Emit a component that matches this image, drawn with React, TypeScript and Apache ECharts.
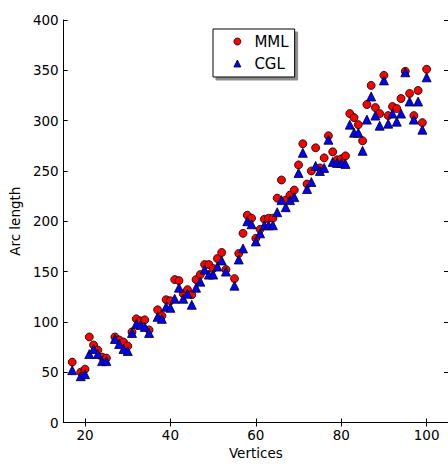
import React, { useEffect, useRef } from "react";
import * as echarts from "echarts";

const vertices = [17, 19, 20, 21, 22, 23, 24, 25, 27, 28, 29, 30, 31, 32, 33, 34, 35, 37, 38, 39, 40, 41, 42, 43, 44, 45, 46, 47, 48, 49, 50, 51, 52, 53, 55, 56, 57, 58, 59, 60, 61, 62, 63, 64, 65, 66, 67, 68, 69, 70, 71, 72, 73, 74, 75, 76, 77, 78, 79, 80, 81, 82, 83, 84, 85, 86, 87, 88, 89, 90, 91, 92, 93, 94, 95, 96, 97, 98, 99, 100];

const mml = [60, 50, 53, 85, 77, 72, 65, 64, 85, 82, 80, 76, 90, 103, 101, 102, 92, 112, 106, 122, 121, 142, 141, 128, 132, 127, 142, 147, 157, 157, 153, 163, 169, 152, 143, 168, 188, 206, 203, 183, 192, 202, 203, 203, 223, 241, 221, 226, 231, 256, 277, 237, 250, 273, 253, 263, 285, 269, 261, 262, 265, 307, 303, 296, 280, 316, 335, 313, 307, 345, 305, 314, 312, 322, 349, 327, 305, 330, 298, 351];

const cgl = [52, 46, 48, 68, 73, 68, 61, 61, 83, 78, 73, 71, 89, 98, 97, 95, 89, 105, 103, 115, 114, 123, 134, 123, 128, 117, 134, 140, 152, 147, 147, 155, 161, 150, 136, 162, 173, 200, 197, 180, 188, 196, 196, 196, 209, 221, 214, 221, 224, 248, 268, 232, 239, 255, 250, 253, 281, 259, 258, 258, 257, 296, 288, 288, 270, 301, 324, 305, 295, 340, 297, 307, 299, 307, 348, 319, 301, 319, 291, 343];

const xTicks = [20, 40, 60, 80, 100];

const FONT = "DejaVu Sans";

export default function App() {
  const ref = useRef<HTMLDivElement>(null);
  useEffect(() => {
    if (!ref.current) return;
    const chart = echarts.init(ref.current, null, { renderer: "svg" });
    const axisLine = { show: true, lineStyle: { color: "#000", width: 1 } };
    const tick = { show: true, inside: true, length: 4, lineStyle: { color: "#000", width: 1 } };
    chart.setOption({
      animation: false,
      backgroundColor: "#fff",
      textStyle: { fontFamily: FONT },
      grid: { left: 60, top: 20, right: -3, bottom: 43.5, containLabel: false },
      legend: {
        left: 213,
        top: 29,
        orient: "vertical",
        data: ["MML", "CGL"],
        itemWidth: 7,
        itemHeight: 7,
        itemGap: 7,
        padding: [5, 6, 6, 20.5],
        backgroundColor: "#fff",
        borderColor: "#000",
        borderWidth: 1,
        shadowColor: "rgba(0,0,0,0.45)",
        shadowOffsetX: 3,
        shadowOffsetY: 3,
        shadowBlur: 0,
        itemStyle: { borderWidth: 0.8, borderColor: "#000" },
        textStyle: { fontFamily: FONT, fontSize: 15, color: "#000", padding: [0, 0, 0, 8.5] },
        z: 10,
      },
      xAxis: [
        {
          type: "value",
          min: 15,
          max: 105,
          position: "bottom",
          name: "Vertices",
          nameLocation: "middle",
          nameGap: 23,
          nameTextStyle: { fontFamily: FONT, fontSize: 13.5, color: "#000" },
          axisLine,
          axisTick: { ...tick, customValues: xTicks },
          axisLabel: { customValues: xTicks, fontFamily: FONT, fontSize: 13.5, color: "#000", margin: 5 },
          splitLine: { show: false },
        },
        {
          type: "value",
          min: 15,
          max: 105,
          position: "top",
          axisLine,
          axisTick: { ...tick, customValues: xTicks },
          axisLabel: { show: false },
          splitLine: { show: false },
        },
      ],
      yAxis: [
        {
          type: "value",
          min: 0,
          max: 400,
          interval: 50,
          position: "left",
          name: "Arc length",
          nameLocation: "middle",
          nameGap: 35,
          nameTextStyle: { fontFamily: FONT, fontSize: 13.5, color: "#000" },
          axisLine,
          axisTick: tick,
          axisLabel: { fontFamily: FONT, fontSize: 13.5, color: "#000", margin: 5 },
          splitLine: { show: false },
        },
        {
          type: "value",
          min: 0,
          max: 400,
          interval: 50,
          position: "right",
          axisLine,
          axisTick: tick,
          axisLabel: { show: false },
          splitLine: { show: false },
        },
      ],
      series: [
        {
          name: "MML",
          type: "scatter",
          symbol: "circle",
          symbolSize: 8,
          itemStyle: { color: "#ff0000", borderColor: "#000", borderWidth: 0.8, opacity: 1 },
          data: vertices.map((v, i) => [v, mml[i]]),
          z: 3,
        },
        {
          name: "CGL",
          type: "scatter",
          symbol: "triangle",
          symbolSize: 9,
          itemStyle: { color: "#0000ff", borderColor: "#000", borderWidth: 0.8, opacity: 1 },
          data: vertices.map((v, i) => [v, cgl[i]]),
          z: 4,
        },
      ],
    });
    return () => chart.dispose();
  }, []);
  return <div ref={ref} style={{ position: "absolute", left: 0, top: 0, width: 448, height: 466 }} />;
}
